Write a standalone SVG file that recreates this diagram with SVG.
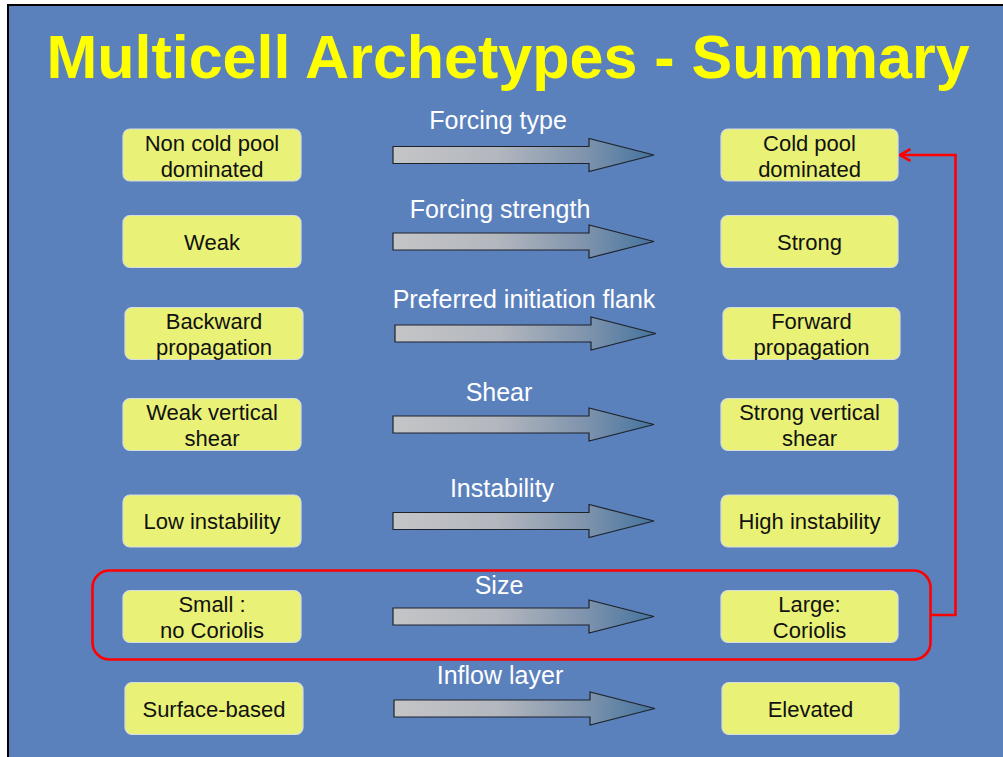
<svg xmlns="http://www.w3.org/2000/svg" width="1003" height="757" viewBox="0 0 1003 757">
  <defs>
    <linearGradient id="arrowGrad" x1="0" y1="0" x2="1" y2="0">
      <stop offset="0" stop-color="#C4C5C7"/>
      <stop offset="0.4" stop-color="#B3B7BE"/>
      <stop offset="0.75" stop-color="#7C92AC"/>
      <stop offset="1" stop-color="#44739E"/>
    </linearGradient>
    <marker id="redHead" markerWidth="14" markerHeight="14" viewBox="0 0 14 14" refX="12.5" refY="7" orient="auto" markerUnits="userSpaceOnUse">
      <polyline points="2,1 12.5,7 2,13" fill="none" stroke="#FF0000" stroke-width="2.6"/>
    </marker>
    <style>
      .box { fill: #E9F176; stroke: #D5DDE3; stroke-width: 1.2; }
      .btxt { font-family: "Liberation Sans", Arial, sans-serif; font-size: 22px; fill: #111111; text-anchor: middle; }
      .lbl { font-family: "Liberation Sans", Arial, sans-serif; font-size: 25px; fill: #FFFFFF; text-anchor: middle; }
      .arrow { fill: url(#arrowGrad); stroke: #1E232A; stroke-width: 1.2; stroke-linejoin: miter; }
      .red { fill: none; stroke: #FF0000; stroke-width: 2.6; }
      .title { font-family: "Liberation Sans", Arial, sans-serif; font-size: 61px; font-weight: bold; fill: #FFFF00; text-anchor: middle; }
    </style>
  </defs>

  <rect x="0" y="0" width="1003" height="757" fill="#FFFFFF"/>
  <rect x="7" y="4" width="996" height="753" fill="#000000"/>
  <rect x="9" y="6" width="994" height="751" fill="#5B81BD"/>

  <text class="title" x="508" y="78">Multicell Archetypes - Summary</text>

  <!-- highlight frame -->
  <g id="highlight">
    <rect class="red" x="92.5" y="570.5" width="838" height="89" rx="17"/>
  </g>

  <!-- connectors -->
  <g id="connectors">
    <path class="arrow" d="M393,146.5 H589 V138.5 L654,155 L589,171.5 V163.5 H393 Z"/>
    <path class="arrow" d="M393,233 H589 V225 L654,241.5 L589,258 V250 H393 Z"/>
    <path class="arrow" d="M395,325 H591 V317 L656,333.5 L591,350 V342 H395 Z"/>
    <path class="arrow" d="M393,416 H589 V408 L654,424.5 L589,441 V433 H393 Z"/>
    <path class="arrow" d="M393,512.5 H589 V504.5 L654,521 L589,537.5 V529.5 H393 Z"/>
    <path class="arrow" d="M393,608 H589 V600 L654,616.5 L589,633 V625 H393 Z"/>
    <path class="arrow" d="M394,700 H590 V692 L655,708.5 L590,725 V717 H394 Z"/>
    <polyline class="red" points="930.5,615 955.5,615 955.5,155 900,155" marker-end="url(#redHead)"/>
    <text class="lbl" x="498" y="129">Forcing type</text>
    <text class="lbl" x="500" y="218">Forcing strength</text>
    <text class="lbl" x="524" y="308">Preferred initiation flank</text>
    <text class="lbl" x="499" y="401">Shear</text>
    <text class="lbl" x="502" y="497">Instability</text>
    <text class="lbl" x="499" y="594">Size</text>
    <text class="lbl" x="500" y="684">Inflow layer</text>
  </g>

  <!-- left nodes -->
  <g id="node-noncoldpool">
    <rect class="box" x="123" y="129" width="178" height="52" rx="7"/>
    <text class="btxt" x="212" y="151">Non cold pool</text>
    <text class="btxt" x="212" y="177">dominated</text>
  </g>
  <g id="node-weak">
    <rect class="box" x="123" y="215.5" width="178" height="52" rx="7"/>
    <text class="btxt" x="212" y="249.5">Weak</text>
  </g>
  <g id="node-backward">
    <rect class="box" x="125" y="307.5" width="178" height="52" rx="7"/>
    <text class="btxt" x="214" y="329">Backward</text>
    <text class="btxt" x="214" y="355">propagation</text>
  </g>
  <g id="node-weakshear">
    <rect class="box" x="123" y="398.5" width="178" height="52" rx="7"/>
    <text class="btxt" x="212" y="420">Weak vertical</text>
    <text class="btxt" x="212" y="446">shear</text>
  </g>
  <g id="node-lowinst">
    <rect class="box" x="123" y="495" width="178" height="52" rx="7"/>
    <text class="btxt" x="212" y="529">Low instability</text>
  </g>
  <g id="node-small">
    <rect class="box" x="123" y="590.5" width="178" height="52" rx="7"/>
    <text class="btxt" x="212" y="611.5">Small :</text>
    <text class="btxt" x="212" y="637.5">no Coriolis</text>
  </g>
  <g id="node-surface">
    <rect class="box" x="125" y="682.5" width="178" height="52" rx="7"/>
    <text class="btxt" x="214" y="717">Surface-based</text>
  </g>

  <!-- right nodes -->
  <g id="node-coldpool">
    <rect class="box" x="721" y="129" width="177" height="52" rx="7"/>
    <text class="btxt" x="809.5" y="151">Cold pool</text>
    <text class="btxt" x="809.5" y="177">dominated</text>
  </g>
  <g id="node-strong">
    <rect class="box" x="721" y="215.5" width="177" height="52" rx="7"/>
    <text class="btxt" x="809.5" y="249.5">Strong</text>
  </g>
  <g id="node-forward">
    <rect class="box" x="723" y="307.5" width="177" height="52" rx="7"/>
    <text class="btxt" x="811.5" y="329">Forward</text>
    <text class="btxt" x="811.5" y="355">propagation</text>
  </g>
  <g id="node-strongshear">
    <rect class="box" x="721" y="398.5" width="177" height="52" rx="7"/>
    <text class="btxt" x="809.5" y="420">Strong vertical</text>
    <text class="btxt" x="809.5" y="446">shear</text>
  </g>
  <g id="node-highinst">
    <rect class="box" x="721" y="495" width="177" height="52" rx="7"/>
    <text class="btxt" x="809.5" y="529">High instability</text>
  </g>
  <g id="node-large">
    <rect class="box" x="721" y="590.5" width="177" height="52" rx="7"/>
    <text class="btxt" x="809.5" y="611.5">Large:</text>
    <text class="btxt" x="809.5" y="637.5">Coriolis</text>
  </g>
  <g id="node-elevated">
    <rect class="box" x="722" y="682.5" width="177" height="52" rx="7"/>
    <text class="btxt" x="810.5" y="717">Elevated</text>
  </g>
</svg>
